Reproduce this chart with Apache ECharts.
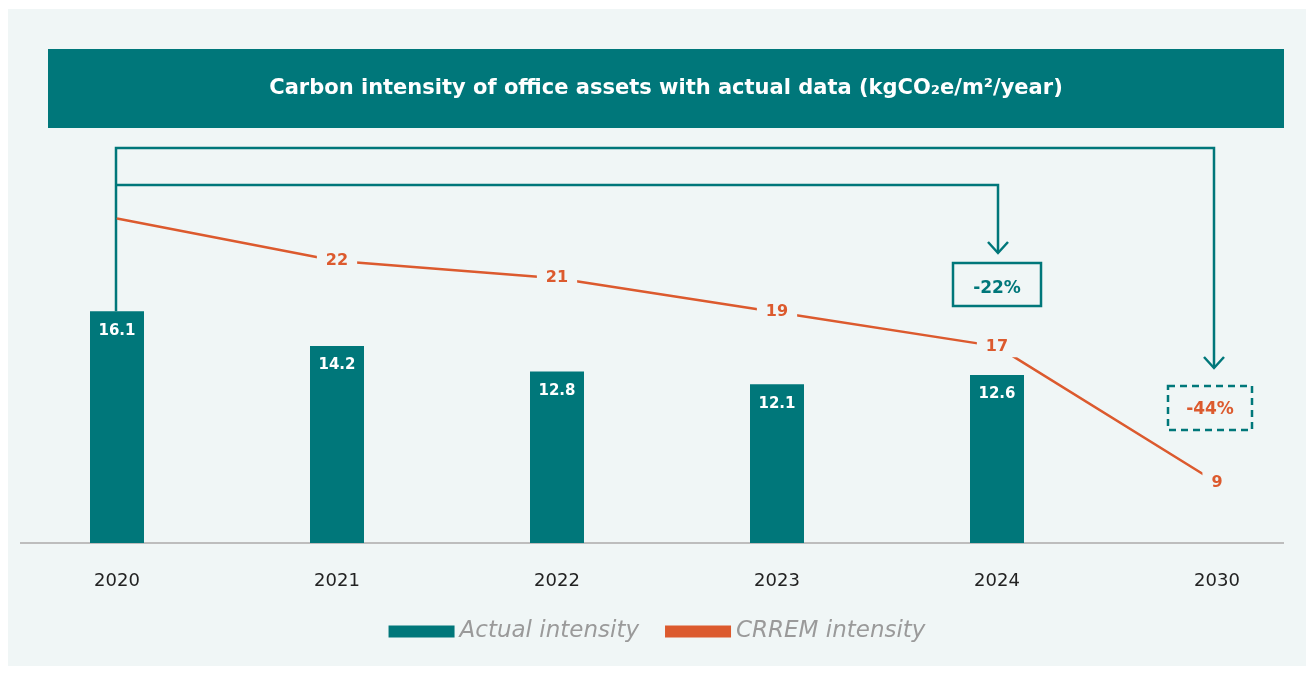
<!DOCTYPE html>
<html>
<head>
<meta charset="utf-8">
<script src="https://cdn.jsdelivr.net/npm/echarts@6/dist/echarts.min.js"></script>
<style>
  html, body { margin: 0; padding: 0; background: #ffffff; }
  #panel { position: absolute; left: 8px; top: 9px; width: 1298px; height: 657px; background: #f0f6f6; }
  #chart { position: absolute; left: 0; top: 0; width: 1314px; height: 673px; }
</style>
</head>
<body>
<div id="panel"></div>
<div id="chart"></div>
<script>
const categories = ['2020', '2021', '2022', '2023', '2024', '2030']
const actualIntensity = [16.1, 14.2, 12.8, 12.1, 12.6, null]
// first point has no label in the picture, its value is read off the line
const crremIntensity = [24.5, 22, 21, 19, 17, 9]
const crremLabelled = [false, true, true, true, true, true]
const reductionLabels = ['-22%', '-44%']

const TEAL = '#00777a'
const ORANGE = '#dc5a2e'
const BG = '#f0f6f6'
const FONT = '"DejaVu Sans", sans-serif'

const chart = echarts.init(document.getElementById('chart'))

const option = {
  backgroundColor: 'transparent',
  animation: false,
  textStyle: { fontFamily: FONT },
  grid: { left: 7, right: -13, top: 140, bottom: 130, outerBoundsMode: 'none' },
  legend: {
    bottom: 25,
    left: 'center',
    itemWidth: 66,
    itemHeight: 12,
    itemGap: 26,
    icon: 'rect',
    textStyle: { color: '#9a9a9a', fontSize: 23, fontStyle: 'italic', fontFamily: FONT },
    data: ['Actual intensity', 'CRREM intensity']
  },
  xAxis: {
    type: 'category',
    data: categories,
    boundaryGap: true,
    axisLine: { show: false },
    axisTick: { show: false },
    axisLabel: { color: '#222', fontSize: 18, margin: 29, fontFamily: FONT }
  },
  yAxis: [
    { type: 'value', min: 3.4, max: 25.48, show: false, splitLine: { show: false } },
    { type: 'value', min: 5.47, max: 29.1, show: false, splitLine: { show: false } }
  ],
  series: [
    {
      name: 'Actual intensity',
      type: 'bar',
      barWidth: 54,
      yAxisIndex: 0,
      itemStyle: { color: TEAL },
      label: {
        show: true,
        position: 'insideTop',
        distance: 12,
        color: '#fff',
        fontWeight: 'bold',
        fontSize: 15
      },
      data: actualIntensity
    },
    {
      name: 'CRREM intensity',
      type: 'line',
      yAxisIndex: 1,
      symbol: 'circle',
      symbolSize: 1,
      itemStyle: { color: ORANGE },
      lineStyle: { color: ORANGE, width: 2.5 },
      label: {
        show: true,
        position: 'inside',
        color: ORANGE,
        fontWeight: 'bold',
        fontSize: 16,
        backgroundColor: BG,
        padding: [3, 9]
      },
      data: crremIntensity.map((v, i) => ({
        value: v,
        label: { show: crremLabelled[i] }
      }))
    }
  ]
}
chart.setOption(option)

// annotations: brackets, arrows and reduction boxes
const px = i => chart.convertToPixel({ xAxisIndex: 0 }, categories[i])
const x0 = px(0), x4 = px(4), x5 = px(5)
const barTop = chart.convertToPixel({ yAxisIndex: 0 }, actualIntensity[0])
const line = { stroke: TEAL, lineWidth: 2.5, fill: null }
const chevron = (x, y) => ({
  type: 'polyline',
  shape: { points: [[x - 10, y - 11], [x, y], [x + 10, y - 11]] },
  style: line
})

chart.setOption({
  graphic: [
    {
      type: 'rect',
      shape: { x: 48, y: 49, width: 1236, height: 79 },
      style: { fill: TEAL }
    },
    {
      type: 'text',
      x: 666,
      y: 89,
      style: {
        text: 'Carbon intensity of office assets with actual data (kgCO\u2082e/m\u00b2/year)',
        fill: '#fff',
        font: 'bold 21px ' + FONT,
        align: 'center',
        verticalAlign: 'middle'
      }
    },
    {
      type: 'line',
      shape: { x1: 20, y1: 543, x2: 1284, y2: 543 },
      style: { stroke: '#bdbdbd', lineWidth: 2 }
    },
    {
      type: 'polyline',
      shape: { points: [[x0 - 1, barTop], [x0 - 1, 148], [x5 - 3, 148], [x5 - 3, 368]] },
      style: line
    },
    {
      type: 'polyline',
      shape: { points: [[x0 - 1, 185], [x4 + 1, 185], [x4 + 1, 253]] },
      style: line
    },
    chevron(x4 + 1, 253),
    chevron(x5 - 3, 368),
    {
      type: 'rect',
      shape: { x: x4 - 44, y: 263, width: 88, height: 43 },
      style: { fill: null, stroke: TEAL, lineWidth: 2.5 }
    },
    {
      type: 'text',
      x: x4,
      y: 289,
      style: {
        text: reductionLabels[0],
        fill: TEAL,
        font: 'bold 17px ' + FONT,
        align: 'center',
        verticalAlign: 'middle'
      }
    },
    {
      type: 'rect',
      shape: { x: x5 - 49, y: 386, width: 84, height: 44 },
      style: { fill: null, stroke: TEAL, lineWidth: 2.5, lineDash: [7, 5] }
    },
    {
      type: 'text',
      x: x5 - 7,
      y: 410,
      style: {
        text: reductionLabels[1],
        fill: ORANGE,
        font: 'bold 17px ' + FONT,
        align: 'center',
        verticalAlign: 'middle'
      }
    }
  ]
})
</script>
</body>
</html>
